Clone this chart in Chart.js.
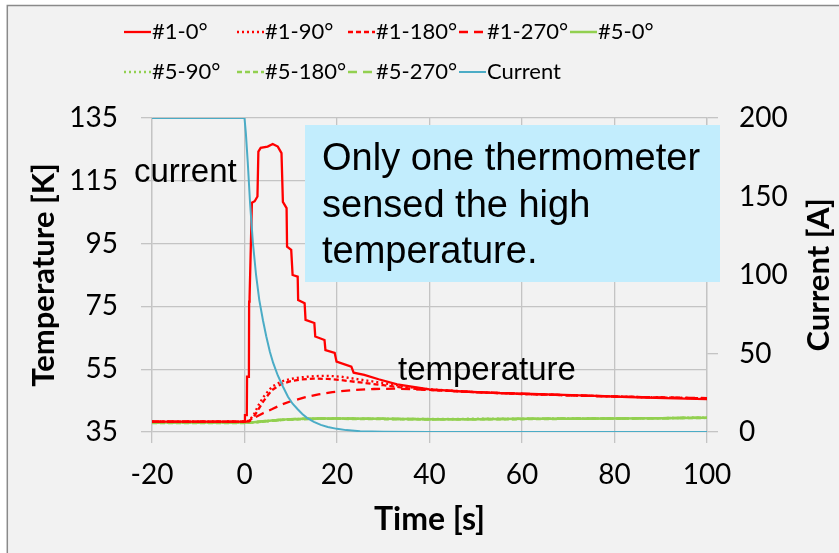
<!DOCTYPE html>
<html>
<head>
<meta charset="utf-8">
<script src="https://cdn.jsdelivr.net/npm/chart.js@4"></script>
<style>
  html, body { margin: 0; padding: 0; background: #fff; overflow: hidden; }
  canvas { display: block; }
</style>
</head>
<body>
<canvas id="chart" width="839" height="553"></canvas>
<script>
// tick labels
const timeTicks = [-20, 0, 20, 40, 60, 80, 100];
const tempTicks = [35, 55, 75, 95, 115, 135];
const currentTicks = [0, 50, 100, 150, 200];

// #1-0 deg, the one that got hot (stepped readout)
const time1_0 = [-20, 0, 0.1, 0.5, 0.55, 0.95, 1.0, 1.1, 1.6, 2.2, 2.8, 3.0, 3.5, 5, 6.1, 7.2, 8.0, 8.3, 9.1, 9.2, 10.1, 10.4, 11.5, 11.6, 13.0, 13.2, 15.1, 15.3, 17.3, 17.5, 19.5, 19.9, 23.1, 23.6, 25.9, 29, 33, 40, 47, 55, 62, 69, 76, 83, 91, 100];
const temp1_0 = [38.3, 38.3, 40.4, 40.4, 52.6, 52.6, 76.5, 78, 108, 108.5, 110, 124.3, 125.5, 125.9, 126.7, 125.9, 123.8, 108.3, 106.3, 94, 93, 85, 84.5, 77, 76, 70.7, 69.7, 65.4, 64.3, 61.1, 60.2, 57.4, 55.8, 53.9, 53.2, 51.8, 50.2, 48.6, 47.9, 47.4, 47.1, 46.8, 46.5, 46.1, 45.8, 45.5];

const time1_90 = [-20, 0, 1, 2, 3, 4, 5, 6, 8, 10, 12, 15, 18, 21, 25, 30, 35, 40, 50, 60, 70, 80, 90, 100];
const temp1_90 = [38.3, 38.3, 38.6, 40.5, 43.5, 46, 47.8, 49.5, 51.1, 51.9, 52.4, 52.8, 52.9, 52.6, 51.7, 50.6, 49.4, 48.6, 47.7, 47.1, 46.7, 46.3, 46.0, 45.7];

const time1_180 = [-20, 0, 1, 2, 3, 4, 5, 6, 8, 10, 12, 15, 18, 21, 25, 30, 35, 40, 50, 60, 70, 80, 90, 100];
const temp1_180 = [38.3, 38.3, 38.5, 39.8, 42.2, 44.6, 46.6, 48.4, 50.3, 51.2, 51.7, 52.0, 51.9, 51.5, 50.8, 49.9, 49.0, 48.4, 47.7, 47.1, 46.7, 46.3, 46.0, 45.7];

const time1_270 = [-20, 0, 1, 2, 4, 6, 8, 10, 13, 16, 19, 23, 28, 33, 40, 50, 60, 70, 80, 90, 100];
const temp1_270 = [38.3, 38.3, 38.4, 39.4, 41, 42.3, 43.7, 44.8, 46, 47, 47.7, 48.3, 48.7, 48.8, 48.4, 47.7, 47.2, 46.7, 46.3, 46.0, 45.8];

// #5 thermometers barely move
const time5 = [-20, 0, 2, 4, 6, 8, 10, 13, 16, 20, 30, 40, 50, 60, 70, 80, 90, 100];
const temp5_0 = [38.0, 38.0, 38.1, 38.4, 38.7, 38.9, 39.1, 39.2, 39.3, 39.3, 39.2, 39.1, 39.1, 39.2, 39.2, 39.3, 39.4, 39.5];
const temp5_90 = [38.0, 38.0, 38.1, 38.3, 38.6, 38.9, 39.0, 39.2, 39.2, 39.3, 39.2, 39.1, 39.2, 39.2, 39.3, 39.3, 39.4, 39.6];
const temp5_180 = [37.9, 37.9, 38.0, 38.3, 38.6, 38.8, 39.0, 39.1, 39.2, 39.2, 39.1, 39.0, 39.1, 39.1, 39.2, 39.3, 39.4, 39.5];
const temp5_270 = [38.0, 38.0, 38.1, 38.4, 38.7, 38.9, 39.1, 39.2, 39.3, 39.3, 39.2, 39.1, 39.1, 39.2, 39.3, 39.3, 39.4, 39.6];

const timeI = [-20, 0, 0.3, 0.7, 1.2, 1.8, 2.5, 3.2, 4, 4.7, 5.5, 6.2, 7.2, 8.3, 9.4, 10.4, 11.5, 12.5, 13.5, 15, 16.5, 18, 20, 22, 25, 30, 40, 60, 80, 100];
const current = [200, 200, 190, 172, 146, 121, 100, 84, 71, 61, 51, 44, 36, 29, 22.5, 18, 14.5, 11.5, 9, 6.5, 4.5, 3.2, 2, 1.2, 0.5, 0.2, 0, 0, 0, 0];

const RED = '#ff0000';
const GREEN = '#92d050';
const BLUE = '#4bacc6';
const GRID = '#c4c4c4';
const DOT = [2, 3];
const DASH = [5, 3];
const LONG = [9, 6];

const pts = (ts, vs) => ts.map((t, i) => ({ x: t, y: vs[i] }));

const line = (label, ts, vs, color, dash, width, axis = 'y') => ({
  label,
  data: pts(ts, vs),
  borderColor: color,
  backgroundColor: color,
  borderWidth: width,
  borderDash: dash,
  pointRadius: 0,
  tension: 0,
  yAxisID: axis,
  order: axis === 'y1' ? 0 : 1,
});

const datasets = [
  line('#1-0°', time1_0, temp1_0, RED, [], 2.3),
  line('#1-90°', time1_90, temp1_90, RED, DOT, 2.3),
  line('#1-180°', time1_180, temp1_180, RED, DASH, 2.3),
  line('#1-270°', time1_270, temp1_270, RED, LONG, 2.3),
  line('#5-0°', time5, temp5_0, GREEN, [], 2.5),
  line('#5-90°', time5, temp5_90, GREEN, DOT, 2.5),
  line('#5-180°', time5, temp5_180, GREEN, DASH, 2.5),
  line('#5-270°', time5, temp5_270, GREEN, LONG, 2.5),
  line('Current', timeI, current, BLUE, [], 2, 'y1'),
];

// frame + grey background
const framePlugin = {
  id: 'frame',
  beforeDraw(chart) {
    const { ctx, width, height } = chart;
    ctx.save();
    ctx.fillStyle = '#ffffff';
    ctx.fillRect(0, 0, width, height);
    ctx.fillStyle = '#f2f2f2';
    ctx.fillRect(7, 5, width, height);
    ctx.strokeStyle = '#8a8a8a';
    ctx.lineWidth = 1.5;
    ctx.beginPath();
    ctx.moveTo(7.3, height);
    ctx.lineTo(7.3, 5.5);
    ctx.lineTo(width, 5.5);
    ctx.stroke();
    ctx.restore();
  },
};

// excel-like legend grid, notes and the right-hand title
const notesPlugin = {
  id: 'notes',
  afterDraw(chart) {
    const { ctx } = chart;
    ctx.save();

    // legend
    const cols = [124, 237, 348, 459, 570];
    const rows = [32, 72];
    ctx.font = '22px Lato';
    ctx.textBaseline = 'middle';
    ctx.textAlign = 'left';
    chart.data.datasets.forEach((ds, i) => {
      const r = i < 5 ? 0 : 1;
      const x = cols[i < 5 ? i : i - 5];
      const y = rows[r];
      ctx.strokeStyle = ds.borderColor;
      ctx.lineWidth = ds.borderWidth;
      ctx.setLineDash(ds.borderDash);
      ctx.beginPath();
      ctx.moveTo(x, y);
      ctx.lineTo(x + 27, y);
      ctx.stroke();
      ctx.setLineDash([]);
      ctx.fillStyle = '#000';
      ctx.fillText(ds.label, x + 28, y);
    });

    // right axis title, reads bottom to top
    const area = chart.chartArea;
    ctx.save();
    ctx.translate(819, (area.top + area.bottom) / 2);
    ctx.rotate(-Math.PI / 2);
    ctx.font = 'bold 31px Lato';
    ctx.textAlign = 'center';
    ctx.textBaseline = 'middle';
    ctx.fillStyle = '#000';
    ctx.fillText('Current [A]', 0, 0);
    ctx.restore();

    // callout box
    ctx.fillStyle = '#c2edfd';
    ctx.fillRect(305, 125, 415, 157);
    ctx.fillStyle = '#000';
    ctx.textBaseline = 'alphabetic';
    ctx.font = '38px "Liberation Sans", Arial, sans-serif';
    ctx.fillText('Only one thermometer', 322, 170);
    ctx.fillText('sensed the high', 322, 217);
    ctx.fillText('temperature.', 322, 263);

    ctx.font = '33px "Liberation Sans", Arial, sans-serif';
    ctx.fillText('current', 134, 182);
    ctx.fillText('temperature', 398, 380);
    ctx.restore();
  },
};

const tickFont = { family: 'Lato', size: 28, lineHeight: 1.2 };
const titleFont = { family: 'Lato', size: 31, weight: 'bold', lineHeight: 1.2 };

new Chart(document.getElementById('chart'), {
  type: 'line',
  data: { datasets },
  plugins: [framePlugin, notesPlugin],
  options: {
    responsive: false,
    animation: false,
    devicePixelRatio: 1,
    layout: { padding: { top: 118, left: 0, right: 0, bottom: 0 } },
    plugins: {
      legend: { display: false },
      tooltip: { enabled: false },
    },
    scales: {
      x: {
        type: 'linear',
        min: -20,
        max: 100,
        afterBuildTicks: (s) => { s.ticks = timeTicks.map((v) => ({ value: v })); },
        afterFit: (s) => { s.height = 121; },
        grid: { color: GRID, lineWidth: 1.3, tickLength: 11 },
        border: { display: false },
        ticks: { font: tickFont, color: '#000', padding: 15, maxRotation: 0 },
        title: {
          display: true,
          text: 'Time [s]',
          color: '#000',
          font: { family: 'Lato', size: 32, weight: 'bold', lineHeight: 1.2 },
          padding: { top: 0, bottom: 14 },
        },
      },
      y: {
        position: 'left',
        min: 35,
        max: 135,
        afterBuildTicks: (s) => { s.ticks = tempTicks.map((v) => ({ value: v })); },
        afterFit: (s) => { s.width = 152; },
        grid: { color: GRID, lineWidth: 1.3, tickLength: 11 },
        border: { display: true, color: GRID, width: 1.3 },
        ticks: { font: tickFont, color: '#000', padding: 23 },
        title: {
          display: true,
          text: 'Temperature [K]',
          color: '#000',
          font: titleFont,
          padding: { top: 25.4, bottom: 0 },
        },
      },
      y1: {
        position: 'right',
        min: 0,
        max: 200,
        afterBuildTicks: (s) => { s.ticks = currentTicks.map((v) => ({ value: v })); },
        afterFit: (s) => { s.width = 132; },
        grid: { drawOnChartArea: false, color: GRID, lineWidth: 1.3, tickLength: 11 },
        border: { display: true, color: GRID, width: 1.3 },
        ticks: { font: tickFont, color: '#000', padding: 21 },
      },
    },
  },
});
</script>
</body>
</html>
